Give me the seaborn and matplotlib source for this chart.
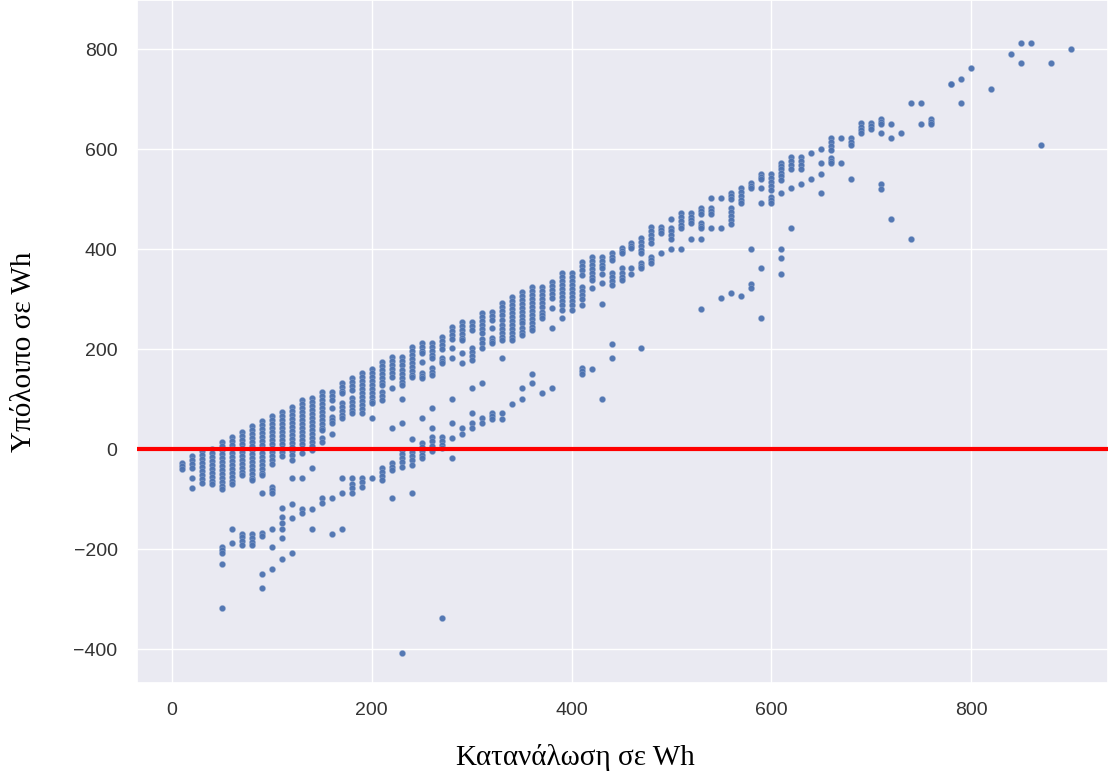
import matplotlib
matplotlib.use("Agg")
import matplotlib.pyplot as plt
import seaborn as sns
import pandas as pd

# ---- data: (consumption Wh, [residual Wh values observed at that consumption]) ----
band_low = [
    (10, [-28, -34, -40]),
    (20, [-14, -22, -30, -38, -58, -78]),
    (30, [-4, -12, -20, -28, -36, -44, -52, -60, -68]),
    (40, [0, -8, -16, -24, -32, -40, -48, -56, -64, -70]),
    (50, [14, 6, -2, -10, -18, -26, -34, -42, -50, -58, -66, -74, -80, -196, -202, -208, -230, -318]),
    (60, [24, 16, 8, 0, -8, -16, -24, -32, -40, -48, -56, -64, -70, -160, -188]),
    (70, [34, 26, 18, 10, 2, -6, -14, -22, -30, -38, -46, -52, -170, -176, -184, -192]),
    (80, [46, 38, 30, 22, 14, 6, -2, -10, -18, -26, -34, -42, -50, -58, -62, -170, -178, -186, -192]),
    (90, [56, 48, 40, 32, 24, 16, 8, 0, -8, -16, -24, -32, -40, -48, -52, -88, -168, -174, -250, -278]),
    (100, [66, 58, 50, 42, 34, 26, 18, 10, 2, -6, -14, -22, -30, -76, -82, -88, -160, -196, -240]),
    (110, [74, 66, 58, 50, 42, 34, 26, 18, 10, 2, -6, -14, -118, -136, -148, -160, -178, -220]),
    (120, [84, 76, 68, 60, 52, 44, 36, 28, 20, 12, 4, -4, -12, -22, -58, -110, -138, -208]),
    (130, [98, 90, 82, 74, 66, 58, 50, 42, 34, 26, 18, 10, 2, -8, -58, -120, -128]),
]

band_mid = [
    (140, [102, 94, 86, 78, 70, 62, 54, 46, 38, 30, 22, 14, 6, -2, -38, -120, -160]),
    (150, [114, 106, 98, 90, 82, 74, 66, 58, 50, 42, 38, 22, 14, -98, -108]),
    (160, [114, 106, 98, 82, 64, 58, 52, 30, -98, -170]),
    (170, [132, 124, 116, 112, 92, 84, 76, 68, 62, -58, -88, -160]),
    (180, [142, 134, 126, 118, 102, 94, 86, 78, 72, -58, -70, -78, -88]),
    (190, [152, 144, 136, 128, 120, 112, 104, 96, 88, 80, 72, -58, -66, -76]),
    (200, [160, 152, 144, 136, 128, 120, 112, 104, 96, 92, 62, -58]),
    (210, [174, 166, 158, 150, 142, 134, 128, 114, 106, 98, -38, -46, -54, -62]),
    (220, [184, 176, 168, 160, 152, 144, 122, 42, -28, -36, -42, -98]),
    (230, [184, 176, 168, 158, 150, 142, 134, 128, 100, 52, -2, -10, -18, -26, -36, -408]),
    (240, [204, 196, 188, 180, 172, 164, 156, 148, 144, 20, -6, -14, -22, -32, -88]),
    (250, [212, 204, 196, 192, 174, 152, 146, 142, 62, 12, 4, -4, -12, -18]),
    (260, [212, 204, 196, 188, 182, 162, 154, 148, 82, 42, 24, 16, 6, -4]),
    (270, [224, 216, 208, 200, 182, 176, 172, 24, 16, 8, 2, -338]),
    (280, [244, 236, 228, 220, 202, 182, 100, 52, 22, -18]),
    (290, [254, 246, 238, 230, 222, 218, 192, 172, 42, 30]),
]

band_high = [
    (300, [254, 246, 238, 202, 194, 186, 178, 122, 72, 52, 42]),
    (310, [272, 264, 256, 248, 240, 232, 220, 212, 202, 132, 62, 52]),
    (320, [274, 266, 258, 242, 222, 216, 212, 72, 66, 60]),
    (330, [292, 284, 276, 268, 258, 248, 240, 232, 224, 218, 182, 72, 60]),
    (340, [304, 296, 288, 280, 272, 264, 256, 248, 240, 232, 224, 218, 90]),
    (350, [314, 306, 298, 290, 282, 274, 266, 258, 252, 242, 234, 228, 122, 100]),
    (360, [324, 316, 308, 300, 292, 284, 276, 268, 260, 252, 244, 238, 150, 132]),
    (370, [324, 316, 308, 300, 292, 284, 274, 268, 262, 112]),
    (380, [334, 326, 318, 310, 302, 282, 242, 122]),
    (390, [352, 344, 336, 328, 320, 312, 304, 296, 288, 278, 262]),
    (400, [352, 344, 336, 328, 320, 312, 304, 296, 288, 278]),
    (410, [374, 366, 358, 348, 324, 316, 308, 300, 288, 162, 156, 150]),
    (420, [384, 376, 368, 360, 352, 344, 338, 322, 160]),
    (430, [384, 376, 368, 362, 350, 332, 290, 100]),
    (440, [392, 384, 378, 352, 344, 336, 328, 210, 182]),
    (450, [402, 396, 392, 362, 352, 344, 338]),
    (460, [412, 406, 402, 362, 350]),
    (470, [422, 414, 406, 398, 392, 372, 366, 362, 202]),
    (480, [444, 436, 428, 420, 412, 384, 378, 372]),
]

band_top = [
    (490, [444, 438, 432, 392]),
    (500, [460, 442, 436, 428, 420, 400]),
    (510, [472, 464, 456, 448, 442, 400]),
    (520, [472, 464, 458, 452, 420]),
    (530, [482, 476, 470, 452, 446, 442, 420, 280]),
    (540, [502, 482, 476, 470, 442]),
    (550, [502, 442, 302]),
    (560, [512, 506, 500, 482, 474, 466, 458, 450, 312]),
    (570, [522, 514, 506, 498, 492, 306]),
    (580, [532, 526, 522, 400, 330, 322]),
    (590, [550, 544, 540, 522, 492, 362, 262]),
    (600, [550, 542, 534, 526, 518, 504, 498, 492]),
    (610, [572, 566, 560, 552, 546, 538, 512, 400, 382, 350]),
    (620, [584, 576, 568, 560, 522, 442]),
    (630, [584, 576, 568, 560, 530]),
    (640, [592, 540]),
    (650, [600, 572, 550, 512]),
    (660, [622, 614, 606, 598, 582, 576, 572]),
    (670, [622, 572]),
    (680, [622, 614, 608, 540]),
    (690, [652, 644, 638, 632]),
    (700, [652, 646, 640]),
    (710, [660, 654, 650, 632, 530, 520]),
    (720, [650, 622, 460]),
    (730, [632]),
    (740, [692, 420]),
    (750, [692, 650]),
    (760, [660, 654, 650]),
    (780, [730, 730]),
    (790, [740, 692]),
    (800, [762]),
    (820, [720]),
    (840, [790]),
    (850, [812, 772]),
    (860, [812]),
    (870, [608]),
    (880, [772]),
    (900, [800]),
]

x_label = "Κατανάλωση σε Wh"
y_label = "Υπόλοιπο σε Wh"
x_ticks = [0, 200, 400, 600, 800]
y_ticks = [-400, -200, 0, 200, 400, 600, 800]

# ---- build long table ----
rows = []
for group in (band_low, band_mid, band_high, band_top):
    for xv, ys in group:
        for yv in ys:
            rows.append((xv, yv))
df = pd.DataFrame(rows, columns=["consumption", "residual"])

# ---- style ----
sns.set_theme(style="darkgrid")
plt.rcParams["font.family"] = ["Liberation Sans", "DejaVu Sans"]

fig = plt.figure(figsize=(11.09, 7.74), dpi=100)
ax = fig.add_axes([137 / 1109, (774 - 683) / 774, 971 / 1109, 683 / 774])

sns.scatterplot(data=df, x="consumption", y="residual", ax=ax,
                color="#4C72B0", s=20, edgecolor="#9fb3d6", linewidth=0.25, alpha=0.95)
ax.axhline(0, color="red", linewidth=3.0, zorder=3)

ax.set_xlim(-35, 937)
ax.set_ylim(-468, 898)
ax.set_xticks(x_ticks)
ax.set_yticks(y_ticks)
ax.tick_params(axis="both", labelsize=14, colors="#333333", pad=14, length=0)

serif = ["Liberation Serif", "DejaVu Serif"]
ax.set_xlabel(x_label, fontsize=21, family=serif, color="black")
ax.set_ylabel(y_label, fontsize=21, family=serif, color="black")
ax.xaxis.set_label_coords((575 - 137) / 971, (683 - 744) / 683)
ax.yaxis.set_label_coords((37 - 137) / 971, (683 - 352) / 683)

fig.savefig("out.png", dpi=100)
